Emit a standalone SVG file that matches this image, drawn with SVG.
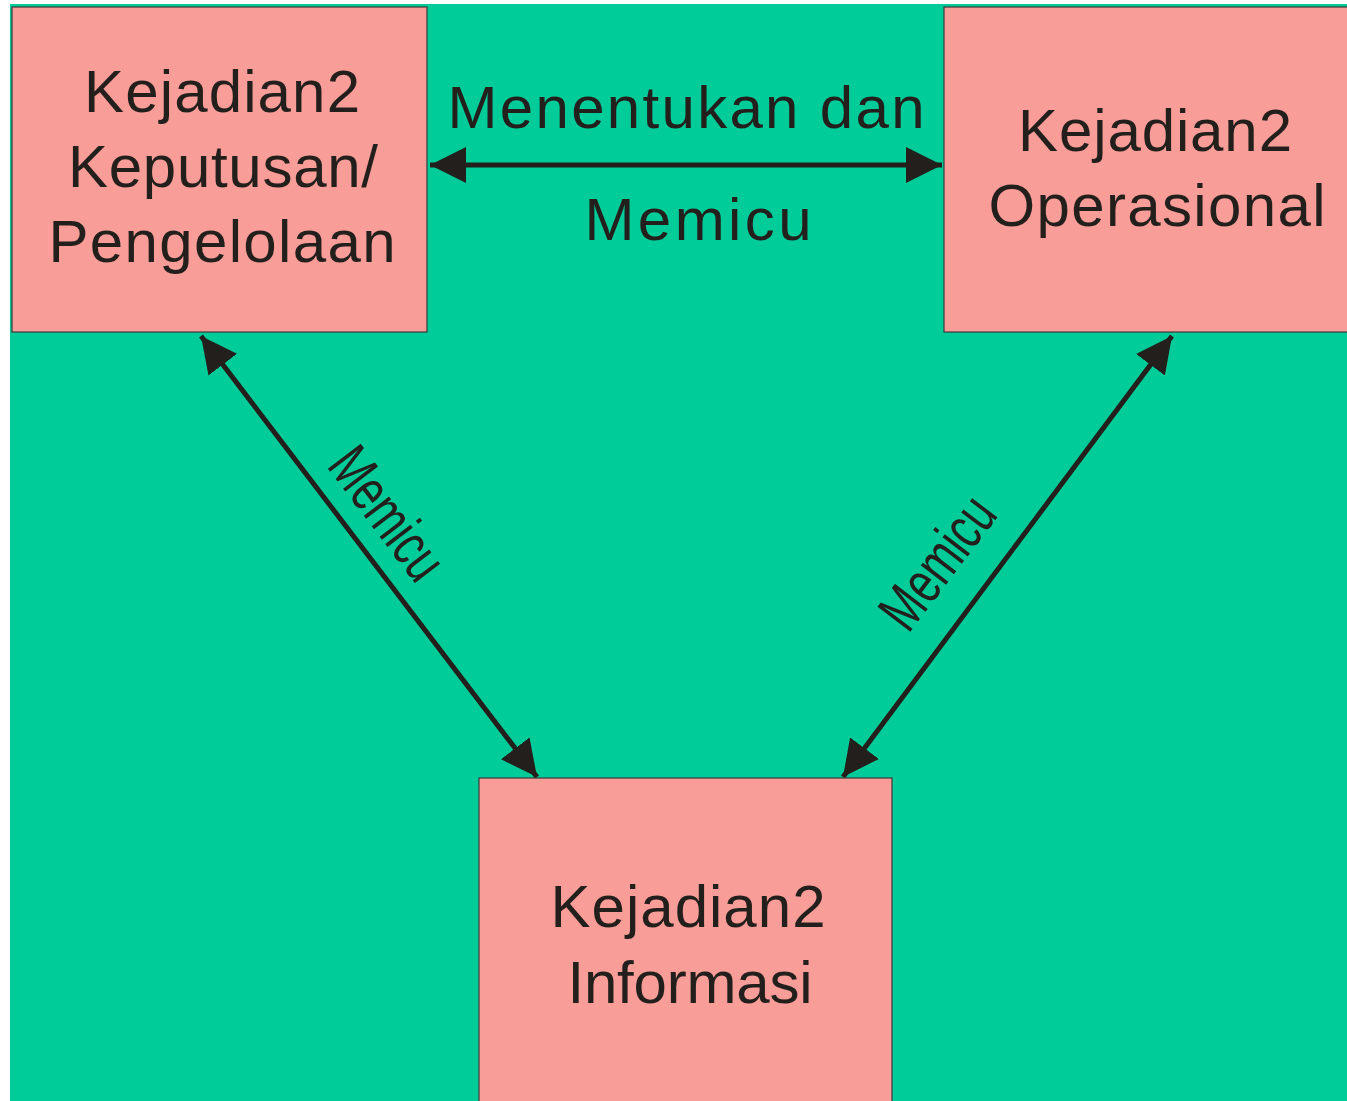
<svg xmlns="http://www.w3.org/2000/svg" width="1347" height="1101" viewBox="0 0 1347 1101">
<defs>
<style>
.box{fill:#F99D98;stroke:#3a3a3a;stroke-width:1.2}
.t{font-family:"Liberation Sans",Arial,sans-serif;font-size:60px;fill:#231F1C;text-anchor:middle}
.conn{stroke:#231F1C;stroke-width:5;fill:none}
</style>
<marker id="ah" markerWidth="38" markerHeight="38" refX="36" refY="18" orient="auto-start-reverse" markerUnits="userSpaceOnUse" viewBox="0 0 38 36">
<path d="M0,0 L36,18 L0,36 Z" fill="#231F1C"/>
</marker>
</defs>
<rect x="0" y="0" width="1347" height="1101" fill="#ffffff"/>
<rect x="10" y="4" width="1337" height="1097" fill="#00CC99"/>
<g id="connectors">
<line class="conn" x1="430" y1="165" x2="942" y2="165" marker-start="url(#ah)" marker-end="url(#ah)"/>
<line class="conn" x1="201" y1="336" x2="537" y2="777" marker-start="url(#ah)" marker-end="url(#ah)"/>
<line class="conn" x1="1172" y1="336" x2="843" y2="777" marker-start="url(#ah)" marker-end="url(#ah)"/>
<text class="t" x="686" y="128" textLength="477" lengthAdjust="spacing">Menentukan dan</text>
<text class="t" x="698" y="240" textLength="227" lengthAdjust="spacing">Memicu</text>
<text class="t" transform="translate(388,513) rotate(52.7)" y="21" textLength="150" lengthAdjust="spacingAndGlyphs">Memicu</text>
<text class="t" transform="translate(937,562) rotate(-52.7)" y="21" textLength="150" lengthAdjust="spacingAndGlyphs">Memicu</text>
</g>
<g id="node-keputusan">
<rect class="box" x="12" y="7" width="415" height="325"/>
<text class="t" x="222" y="112" textLength="276" lengthAdjust="spacing">Kejadian2</text>
<text class="t" x="223" y="187" textLength="310" lengthAdjust="spacing">Keputusan/</text>
<text class="t" x="222" y="262" textLength="347" lengthAdjust="spacing">Pengelolaan</text>
</g>
<g id="node-operasional">
<rect class="box" x="944" y="7" width="410" height="325"/>
<text class="t" x="1155" y="151" textLength="274" lengthAdjust="spacing">Kejadian2</text>
<text class="t" x="1157" y="226" textLength="337" lengthAdjust="spacing">Operasional</text>
</g>
<g id="node-informasi">
<rect class="box" x="479" y="778" width="413" height="330"/>
<text class="t" x="688" y="927" textLength="275" lengthAdjust="spacing">Kejadian2</text>
<text class="t" x="690" y="1003" textLength="245" lengthAdjust="spacing">Informasi</text>
</g>
</svg>
